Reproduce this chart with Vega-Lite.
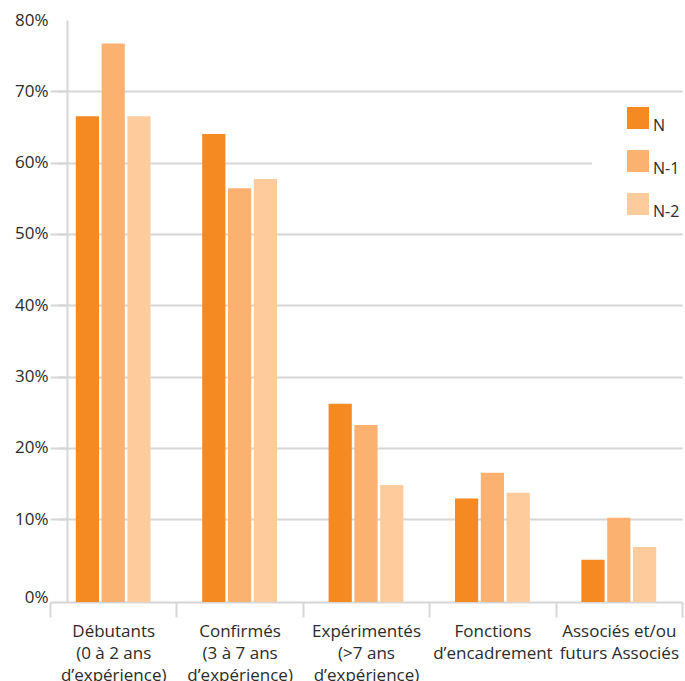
{
  "$schema": "https://vega.github.io/schema/vega-lite/v6.json",
  "width": 627,
  "height": 582,
  "autosize": {"type": "none"},
  "padding": {"left": 58, "top": 20, "right": 0, "bottom": 79},
  "background": "white",
  "config": {
    "view": {"stroke": null},
    "font": "Open Sans",
    "axis": {"labelFont": "Open Sans", "labelColor": "#2b2b2b", "labelFontSize": 17}
  },
  "data": {
    "values": [
      {"categorie": "Débutants|(0 à 2 ans|d’expérience)", "serie": "N", "part": 0.665},
      {"categorie": "Débutants|(0 à 2 ans|d’expérience)", "serie": "N-1", "part": 0.767},
      {"categorie": "Débutants|(0 à 2 ans|d’expérience)", "serie": "N-2", "part": 0.665},
      {"categorie": "Confirmés|(3 à 7 ans|d’expérience)", "serie": "N", "part": 0.640},
      {"categorie": "Confirmés|(3 à 7 ans|d’expérience)", "serie": "N-1", "part": 0.564},
      {"categorie": "Confirmés|(3 à 7 ans|d’expérience)", "serie": "N-2", "part": 0.577},
      {"categorie": "Expérimentés|(>7 ans|d’expérience)", "serie": "N", "part": 0.262},
      {"categorie": "Expérimentés|(>7 ans|d’expérience)", "serie": "N-1", "part": 0.232},
      {"categorie": "Expérimentés|(>7 ans|d’expérience)", "serie": "N-2", "part": 0.148},
      {"categorie": "Fonctions|d’encadrement", "serie": "N", "part": 0.129},
      {"categorie": "Fonctions|d’encadrement", "serie": "N-1", "part": 0.165},
      {"categorie": "Fonctions|d’encadrement", "serie": "N-2", "part": 0.137},
      {"categorie": "Associés et/ou|futurs Associés", "serie": "N", "part": 0.043},
      {"categorie": "Associés et/ou|futurs Associés", "serie": "N-1", "part": 0.102},
      {"categorie": "Associés et/ou|futurs Associés", "serie": "N-2", "part": 0.061}
    ]
  },
  "mark": {"type": "bar"},
  "encoding": {
    "x": {
      "field": "categorie",
      "type": "nominal",
      "sort": null,
      "scale": {"range": [-8, 624], "paddingInner": 0, "paddingOuter": 0},
      "axis": {
        "title": null,
        "labelAngle": 0,
        "labelExpr": "split(datum.label, '|')",
        "labelLineHeight": 22,
        "labelBaseline": "top",
        "labelPadding": 6,
        "labelLimit": 200,
        "tickBand": "extent",
        "tickSize": 15,
        "tickWidth": 2,
        "tickColor": "#d6d6d6",
        "domainColor": "#d6d6d6",
        "domainWidth": 2,
        "grid": false
      }
    },
    "xOffset": {
      "field": "serie",
      "type": "nominal",
      "scale": {"paddingInner": 0.1, "paddingOuter": 1.03}
    },
    "y": {
      "field": "part",
      "type": "quantitative",
      "scale": {"domain": [-0.0162, 0.8], "nice": false, "zero": false},
      "axis": {
        "title": null,
        "format": ".0%",
        "values": [0, 0.1, 0.2, 0.3, 0.4, 0.5, 0.6, 0.7, 0.8],
        "offset": -9,
        "tickSize": 9,
        "tickWidth": 2,
        "tickColor": "#d6d6d6",
        "tickOpacity": {"condition": {"test": "datum.value <= 0 || datum.value >= 0.8", "value": 0}, "value": 1},
        "domainColor": "#d6d6d6",
        "domainWidth": 2,
        "labelPadding": 10,
        "labelOffset": {"condition": {"test": "datum.value <= 0", "value": 7}, "value": 0},
        "grid": true,
        "gridColor": "#d6d6d6",
        "gridWidth": 2,
        "gridOpacity": {"condition": {"test": "datum.value <= 0 || datum.value >= 0.8", "value": 0}, "value": 1}
      }
    },
    "y2": {"datum": -0.0162},
    "color": {
      "field": "serie",
      "type": "nominal",
      "scale": {"domain": ["N", "N-1", "N-2"], "range": ["#f58a22", "#fbb170", "#fdcb9c"]},
      "legend": {
        "title": null,
        "orient": "none",
        "legendX": 534,
        "legendY": 79,
        "padding": 8,
        "fillColor": "white",
        "symbolType": "square",
        "symbolSize": 484,
        "symbolStrokeWidth": 0,
        "symbolOffset": 27,
        "rowPadding": 16,
        "labelOffset": 4,
        "labelFont": "Open Sans",
        "labelFontSize": 16,
        "labelColor": "#2b2b2b",
        "labelBaseline": "top"
      }
    }
  }
}
